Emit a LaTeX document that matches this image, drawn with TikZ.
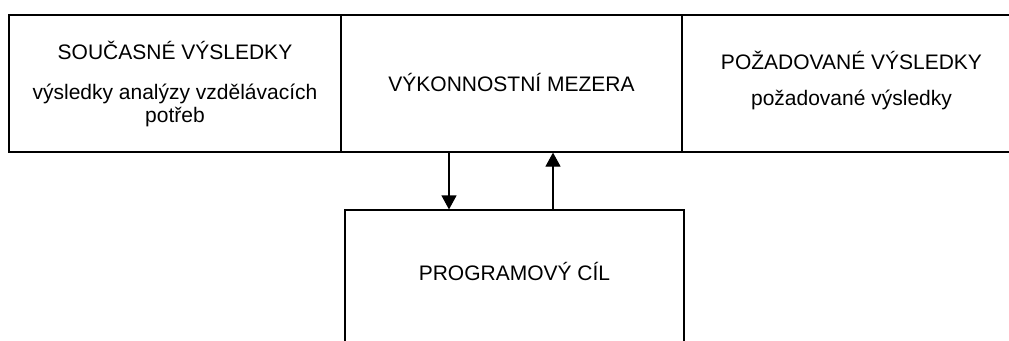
\documentclass[tikz,border=0pt]{standalone}
\usepackage{fontspec}
\setmainfont{Liberation Sans}
\usetikzlibrary{arrows.meta}
\begin{document}
\begin{tikzpicture}[x=1pt,y=-1pt,
  boxstyle/.style={draw,line width=1.2pt,inner sep=0pt,minimum height=137pt},
  txt/.style={font=\fontsize{21}{23}\selectfont,anchor=base,align=center,inner sep=0pt},
  arr/.style={line width=1.2pt,-{Triangle[width=15pt,length=14pt]}}]
\useasboundingbox (0,0) rectangle (1009,340);
\clip (0,0) rectangle (1009,340);
\node[boxstyle,minimum width=332pt] (box1) at (175,83.5) {};
\node[boxstyle,minimum width=341pt] (box2) at (511.5,83.5) {};
\node[boxstyle,minimum width=339pt] (box3) at (851.5,83.5) {};
\node[draw,line width=1.2pt,inner sep=0pt,minimum width=339pt,minimum height=150pt] (goal) at (514.5,285) {};
\node[txt] (t1a) at (175,59) {SOUČASNÉ VÝSLEDKY};
\node[txt] (t1b) at (175,122) {výsledky analýzy vzdělávacích\\potřeb};
\node[txt] (t2) at (511.5,91) {VÝKONNOSTNÍ MEZERA};
\node[txt] (t3a) at (851.5,69) {POŽADOVANÉ VÝSLEDKY};
\node[txt] (t3b) at (851.5,105) {požadované výsledky};
\node[txt] (t4) at (514.5,280) {PROGRAMOVÝ CÍL};
\coordinate (a1) at (449,0);
\coordinate (a2) at (553,0);
\draw[arr] (a1 |- box2.south) -- (a1 |- goal.north);
\draw[arr] (a2 |- goal.north) -- (a2 |- box2.south);
\end{tikzpicture}
\end{document}
